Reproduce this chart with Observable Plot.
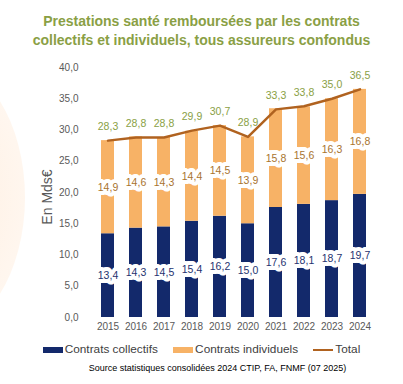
<!DOCTYPE html>
<html><head><meta charset="utf-8">
<script src="https://cdn.jsdelivr.net/npm/d3@7"></script>
<script src="https://cdn.jsdelivr.net/npm/@observablehq/plot@0.6"></script>
<style>
body{margin:0;background:#fff;font-family:"Liberation Sans",Arial,sans-serif;}
#wrap{position:relative;width:403px;height:384px;overflow:hidden;}
#deco{position:absolute;left:-150px;top:60px;width:175px;height:275px;border-radius:50%;background:radial-gradient(ellipse at 30% 50%, #fdebd9 0%, #fff6ee 70%, #fffaf5 100%);}
#title{position:absolute;top:12px;left:0;width:403px;text-align:center;font-weight:bold;font-size:14px;line-height:19px;color:#8a9f45;}
#chart{position:absolute;top:55px;left:0;}
#legend{position:absolute;top:342px;left:0;width:403px;text-align:center;font-size:11.8px;color:#404040;white-space:nowrap;}
#legend span.sw{display:inline-block;vertical-align:middle;margin-right:2px;}
#legend span.it{margin-right:12px;}
#source{position:absolute;top:363px;left:0;width:435px;text-align:center;font-size:9px;color:#000;}
</style></head><body>
<div id="wrap">
<div id="deco"></div>
<div id="title">Prestations santé remboursées par les contrats<br>collectifs et individuels, tous assureurs confondus</div>
<div id="chart"></div>
<div id="legend">
<span class="sw" style="width:20px;height:6px;background:#13296b"></span><span class="it">Contrats collectifs</span>
<span class="sw" style="width:20px;height:6px;background:#f7b266"></span><span class="it">Contrats individuels</span>
<span class="sw" style="width:20px;height:2px;background:#b0621f"></span><span>Total</span>
</div>
<div id="source">Source statistiques consolidées 2024 CTIP, FA, FNMF (07 2025)</div>
</div>
<script>
const years = ["2015","2016","2017","2018","2019","2020","2021","2022","2023","2024"];
const collectifs = [13.4,14.3,14.5,15.4,16.2,15.0,17.6,18.1,18.7,19.7];
const individuels = [14.9,14.6,14.3,14.4,14.5,13.9,15.8,15.6,16.3,16.8];
const totals = [28.3,28.8,28.8,29.9,30.7,28.9,33.3,33.8,35.0,36.5];
const yTicks = [0,5,10,15,20,25,30,35,40];

const fmt = v => d3.format(".1f")(v).replace(".", ",");
const rows = [];
years.forEach((y,i)=>{
  rows.push({year:y, serie:"Contrats collectifs", value:collectifs[i]});
  rows.push({year:y, serie:"Contrats individuels", value:individuels[i]});
});
const tot = years.map((y,i)=>({year:y, value:totals[i]}));
const colMid = years.map((y,i)=>({year:y, v:collectifs[i], mid:collectifs[i]/2}));
const indMid = years.map((y,i)=>({year:y, v:individuels[i], mid:collectifs[i]+individuels[i]/2}));

const chart = Plot.plot({
  width:403, height:282,
  marginLeft:86, marginRight:21, marginTop:12, marginBottom:20,
  style:{fontFamily:"Liberation Sans, Arial, sans-serif", fontSize:"10px", color:"#595959", background:"transparent"},
  x:{domain:years, padding:0.52, label:null, tickSize:0, tickPadding:5},
  y:{domain:[0,40], ticks:yTicks, tickFormat:fmt, label:null, tickSize:0, tickPadding:8},
  color:{domain:["Contrats collectifs","Contrats individuels"], range:["#13296b","#f7b266"]},
  marks:[
    Plot.gridY(yTicks,{stroke:"#d9d9d9", strokeOpacity:1, x1:86, x2:382}),
    Plot.barY(rows,{x:"year", y:"value", fill:"serie", order:["Contrats collectifs","Contrats individuels"]}),
    Plot.line(tot,{x:"year", y:"value", stroke:"#b0621f", strokeWidth:2.5}),
    Plot.text(colMid,{x:"year", y:"mid", text:d=>fmt(d.v), fill:"#1f3370", stroke:"white", strokeWidth:8, strokeLinejoin:"round", fontSize:10.5}),
    Plot.text(indMid,{x:"year", y:"mid", text:d=>fmt(d.v), fill:"#a8732f", stroke:"white", strokeWidth:8, strokeLinejoin:"round", fontSize:10.5}),
    Plot.text(tot,{x:"year", y:"value", text:d=>fmt(d.value), dy:-14, fill:"#8a9f45", fontSize:10.5})
  ]
});
chart.querySelectorAll("[aria-label='y-axis tick label'] text, [aria-label='x-axis tick label'] text").forEach(t=>t.setAttribute("fill","#595959"));
document.getElementById("chart").appendChild(chart);
const ylab = d3.select(chart).append("text").text("En Mds€")
  .attr("transform","translate(52,142) rotate(-90)").attr("text-anchor","middle")
  .attr("font-size","14px").attr("fill","#595959").attr("font-family","Liberation Sans, Arial, sans-serif");
</script>
</body></html>
